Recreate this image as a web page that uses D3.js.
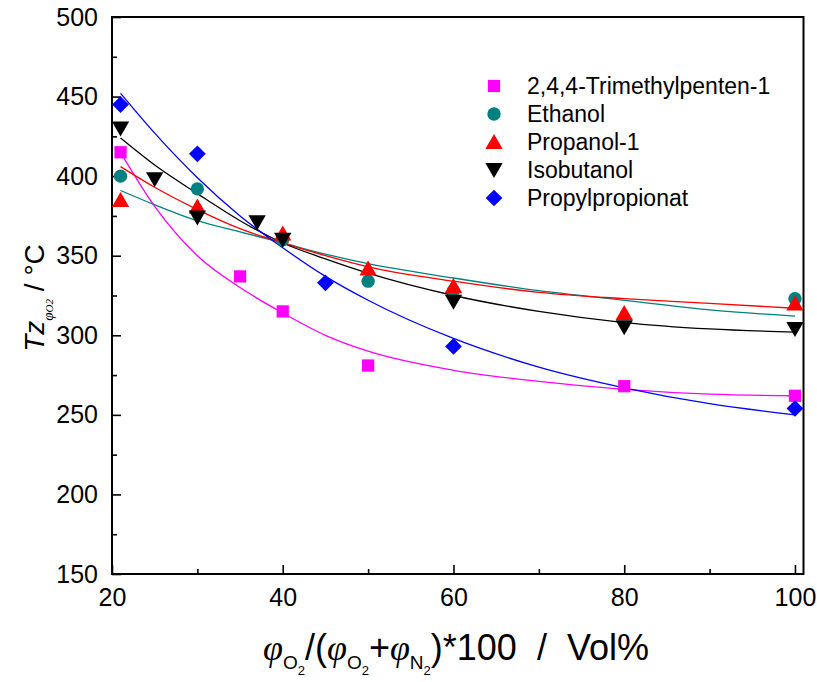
<!DOCTYPE html>
<html><head><meta charset="utf-8">
<script src="https://cdn.jsdelivr.net/npm/d3@7"></script>
<style>
body{margin:0;background:#fff;}
svg{display:block;font-family:"Liberation Sans",Arial,sans-serif;}
</style></head>
<body><svg id="c" width="817" height="682"></svg>
<script>
// ---- data ----
const seriesNames = ["2,4,4-Trimethylpenten-1","Ethanol","Propanol-1","Isobutanol","Propylpropionat"];
const seriesColors = ["#FF00FF","#008080","#FF0000","#000000","#0000FF"];
const seriesSymbols = ["square","circle","triangle","triangleDown","diamond"];

const trimX = [21,35,40,50,80,100];
const trimY = [415,337,315,281,268,262];
const ethX = [21,30,40,50,60,100];
const ethY = [400,392,360,334,328,323];
const propX = [21,30,40,50,60,80,100];
const propY = [385,381,364,342,331,314,320];
const isoX = [21,25,30,37,40,60,80,100];
const isoY = [430,398,374,371,360,321,305,304];
const ppX = [21,30,45,60,100];
const ppY = [445,414,333,293,254];

// fitted curves
const fitX = [21,25,30,35,40,45,50,60,70,80,90,100];
const trimFit = [415,381,350,330,314,300,290,278,271,266,263,262];
const ethFit  = [391,382,372,365,358,351,345,336,328,322,316,312];
const propFit = [406,393,379,367,358,350,343,334,327,323,320,317];
const isoFit  = [424,407,389,372,358,348,339,325,315,308,304,302];
const ppFit   = [452,427,399,375,355,337,322,298,280,267,257,250];

const xMajor = [20,40,60,80,100];
const xMinor = [30,50,70,90];
const yMajor = [150,200,250,300,350,400,450,500];
const yMinor = [175,225,275,325,375,425,475];
const xDomain = [20,101];
const yDomain = [150,500];

const pointsX = [trimX,ethX,propX,isoX,ppX];
const pointsY = [trimY,ethY,propY,isoY,ppY];
const fits = [trimFit,ethFit,propFit,isoFit,ppFit];

// ---- drawing ----
const svg = d3.select("#c");
const L=112,R=803.5,T=17,B=574;
const x = d3.scaleLinear().domain(xDomain).range([L,R]);
const y = d3.scaleLinear().domain(yDomain).range([B,T]);

svg.append("rect").attr("x",L).attr("y",T).attr("width",R-L).attr("height",B-T)
  .attr("fill","none").attr("stroke","#000").attr("stroke-width",2);

function styleAxis(g){g.select(".domain").remove();g.selectAll("line").attr("stroke","#000").attr("stroke-width",1.6);
  g.selectAll("text").attr("fill","#000").style("font-size","25px").style("font-family","'Liberation Sans',Arial,sans-serif");}
svg.append("g").attr("transform",`translate(0,${B})`)
  .call(d3.axisBottom(x).tickValues(xMinor).tickSize(-5).tickFormat(""))
  .call(styleAxis);
svg.append("g").attr("transform",`translate(0,${B})`)
  .call(d3.axisBottom(x).tickValues(xMajor).tickSize(-9).tickPadding(14).tickFormat(d3.format("d")))
  .call(styleAxis);
svg.append("g").attr("transform",`translate(${L},0)`)
  .call(d3.axisLeft(y).tickValues(yMinor).tickSize(-5).tickFormat(""))
  .call(styleAxis);
svg.append("g").attr("transform",`translate(${L},0)`)
  .call(d3.axisLeft(y).tickValues(yMajor).tickSize(-9).tickPadding(14).tickFormat(d3.format("d")))
  .call(styleAxis);

const line = d3.line().x((d,i)=>x(fitX[i])).y(d=>y(d)).curve(d3.curveMonotoneX);
fits.forEach((f,i)=>{
  svg.append("path").attr("d",line(f)).attr("fill","none")
    .attr("stroke",seriesColors[i]).attr("stroke-width",1.3);
});

const symMap = {
  square: d3.symbol().type(d3.symbolSquare).size(150),
  circle: d3.symbol().type(d3.symbolCircle).size(140),
  triangle: d3.symbol().type(d3.symbolTriangle).size(130),
  triangleDown: d3.symbol().type(d3.symbolTriangle).size(130),
  diamond: d3.symbol().type(d3.symbolSquare).size(140)
};
function drawSym(g,type,cx,cy,color){
  let rot = type==="triangleDown"?180:(type==="diamond"?45:0);
  let dy = type==="triangle"?2:(type==="triangleDown"?-2:0);
  g.append("path").attr("d",symMap[type]())
    .attr("transform",`translate(${cx},${cy+dy}) rotate(${rot})`)
    .attr("fill",color);
}
const plotG = svg.append("g");
[1,2,0,3,4].forEach(i=>{
  pointsX[i].forEach((xv,j)=>drawSym(plotG,seriesSymbols[i],x(xv),y(pointsY[i][j]),seriesColors[i]));
});

// legend
const lg = svg.append("g");
const legY0 = 86, legDy = 28;
seriesNames.forEach((n,i)=>{
  drawSym(lg,seriesSymbols[i],494,legY0+i*legDy,seriesColors[i]);
  lg.append("text").attr("x",527).attr("y",legY0+i*legDy+8).text(n)
    .style("font-size","23px").attr("fill","#000");
});

// y label
const yl = svg.append("text").attr("transform","translate(44,298) rotate(-90)")
  .attr("text-anchor","middle").style("font-size","28px").attr("fill","#000");
yl.append("tspan").text("Tz").style("font-style","italic");
yl.append("tspan").text("φ").attr("dy",9).style("font-family","'Liberation Serif',serif").style("font-style","italic").style("font-size","15px");
yl.append("tspan").text("O2").style("font-family","'Liberation Serif',serif").style("font-style","italic").style("font-size","11px");
yl.append("tspan").text("\u00A0/\u00A0°C").attr("dy",-9);

// x label
const xl = svg.append("text").attr("x",456).attr("y",660).attr("text-anchor","middle")
  .style("font-size","36px").attr("fill","#000");
let pendingDy = 0;
function part(txt, dy, size, serif){
  const t = xl.append("tspan").text(txt).attr("dy",dy+pendingDy);
  pendingDy = 0;
  if(size) t.style("font-size",size+"px");
  if(serif) t.style("font-family","'Liberation Serif',serif").style("font-style","italic");
  return t;
}
function phi(sub){
  part("φ",0,null,true);
  part(sub,9,19);
  part("2",6,13);
  pendingDy = -15;
}
phi("O");
part("/(",0);
phi("O");
part("+",0);
phi("N");
part(")*100\u00A0\u00A0/\u00A0\u00A0Vol%",0);
</script></body></html>
